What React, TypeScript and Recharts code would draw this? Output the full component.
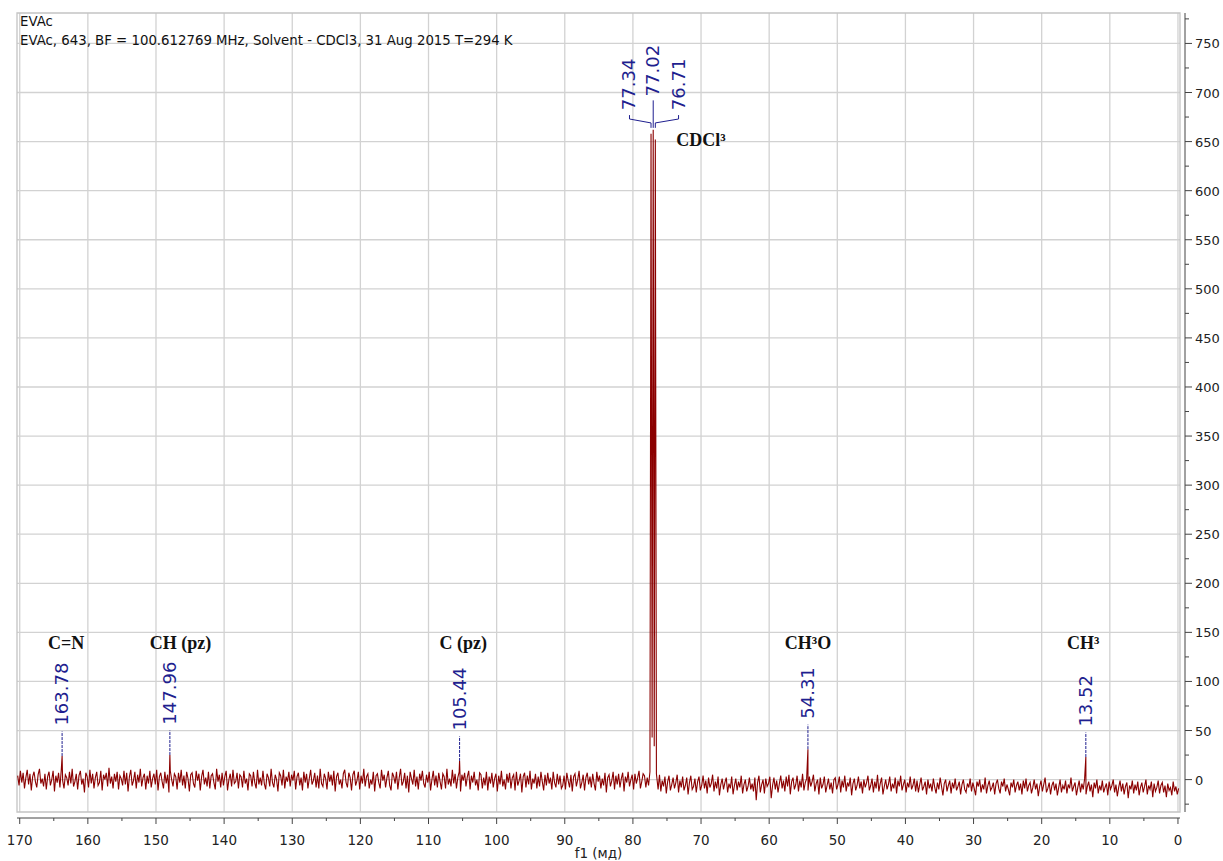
import React from 'react';
import {
  ComposedChart,
  Line,
  Scatter,
  XAxis,
  YAxis,
  CartesianGrid,
  ReferenceLine,
  ReferenceArea,
} from 'recharts';

// 13C spectrum, baseline sampled every 0.2 ppm from 170.3 ppm downwards
const NOISE_START = 170.3;
const NOISE_STEP = 0.2;
const baselineNoise = [
  4, -6, 9, -3, 7, -9, 2, 10, -5, 6, -11, 3, 8, -2, -8, 5, 11, -4, 1, -7,
  6, -10, 3, 8, -6, 0, 9, -12, 4, -3, 7, -8, 10, -1, -9, 5, 2, -6, 8, -4,
  11, -7, -2, 6, -10, 4, 9, -5, 1, -13, 7, 3, -8, 10, -4, 6, -9, 2, 8, -6,
  -3, 9, -11, 5, 0, 7, -7, 12, -4, 3, -9, 6, -2, 8, -10, 4, 1, -6, 9, -5,
  7, -12, 3, 10, -6, -1, 8, -9, 5, -3, 11, -7, 2, 6, -10, 4, -4, 9, -8, 1,
  6, -5, 10, -11, 3, 7, -2, -9, 8, -4, 5, -13, 9, 0, -7, 6, 3, -10, 7, -3,
  10, -6, 4, -9, 8, 1, -12, 5, 7, -4, -8, 9, -1, 6, -11, 3, 10, -5, 2, -7,
  8, -9, 4, 6, -3, -10, 11, -2, 5, -8, 7, -6, 3, 9, -11, 0, 6, -7, 10, -4,
  -2, 7, -9, 5, 3, -8, 9, -4, 1, -11, 6, 4, -7, 8, -3, -9, 10, -5, 2, -6,
  9, -4, -10, 6, 2, -7, 11, -3, -8, 5, 0, -12, 7, 4, -6, 10, -9, 3, -2, 8,
  -7, 5, -1, 9, -10, 3, 7, -6, 2, -11, 8, -3, 6, -9, 1, 10, -5, -1, 7, -8,
  4, -9, 11, -4, -7, 6, 1, -10, 8, -2, 5, -6, 9, -12, 3, 7, -5, 0, -9, 6,
  10, -3, -8, 7, 2, -11, 5, 9, -6, -1, 8, -10, 4, -4, 11, -7, 3, 6, -9, 0,
  -5, 8, -12, 4, 6, -3, -9, 10, -1, 5, -8, 2, 9, -6, -11, 7, 3, -4, 8, -10,
  2, 11, -6, -2, 7, -9, 4, -13, 8, 1, -5, 10, -7, 3, -10, 6, -1, 9, -4, -8,
  5, -3, 8, -11, 0, 9, -6, 4, -8, 7, -2, -10, 6, 3, -9, 11, -5, 1, -7, 10,
  -4, 6, -9, 2, 8, -12, 5, -1, 7, -7, 3, 9, -10, 4, -3, 8, -6, 0, -11, 7,
  5, -9, 2, -6, 8, -11, 3, -4, 7, -8, 1, 6, -12, 4, -5, 9, -7, 0, -10, 6,
  -3, 7, -9, 2, 5, -11, 8, -6, -1, 6, -13, 3, 7, -8, 4, -5, 9, -10, 1, -4,
  6, -9, 3, -7, 8, -2, -11, 5, -6, 7, -4, 2, -10, 8, -3, -8, 6, -5, 4, -9,
  -6, 4, -10, 7, -1, -8, 5, -12, 3, 6, -7, 0, 9, -9, -3, 5, -11, 2, 7, -5,
  3, -8, 6, -4, -11, 8, -2, 4, -9, 1, -6, 7, -13, 2, 5, -7, -1, 8, -10, 4,
  -5, 6, -8, 1, 7, -12, 3, -3, 8, -7, 0, 5, -10, 6, -4, 2, 9, -9, -2, 6,
  4, -8, 2, -6, 9, -3, -4, -1, -2, 3, -10, 5, -12, -1, -7, 3, -14, -2, 4, -11,
  -5, 2, -9, -3, 5, -13, -1, -8, 3, -11, -6, 2, -15, -3, 4, -10, -7, 1, -13, -2,
  3, -11, -6, 4, -9, -1, -14, 2, -8, -4, 5, -12, -2, -9, 3, -16, -5, 1, -10, -3,
  2, -13, -4, -9, 3, -15, -6, 1, -11, -2, -8, 4, -14, -5, 0, -12, -7, 2, -10, -4,
  -12, 2, -21, -3, 4, -13, -5, 0, -14, 1, -7, -4, 3, -19, -6, 2, -10, -1, -13, -4,
  4, -9, -1, -12, 3, -7, 5, -15, -2, 2, -10, -5, 4, -12, -1, -8, 6, -11, -3, 1,
  -11, 3, -7, -2, 5, -12, -4, 0, -15, 2, -9, -5, 3, -13, -6, 1, -10, -3, -14, 0,
  2, -10, -5, 3, -13, -1, -8, 4, -12, -3, -7, 2, -16, -4, 1, -11, -6, 3, -9, -2,
  -14, 0, -8, -3, 4, -11, -6, 1, -13, -2, -9, 5, -12, -4, 2, -15, -7, 0, -10, -5,
  3, -12, -4, -9, 2, -14, -1, -7, 4, -11, -5, 0, -13, -3, -8, 3, -10, -6, 1, -12,
  -1, -13, -5, 2, -11, -7, -2, -15, 0, -9, -4, -12, 1, -8, -14, -3, -10, 2, -7, -16,
  -4, 0, -12, -6, -1, -14, -3, -9, 1, -11, -7, -2, -15, -5, 0, -10, -13, -4, -8, 1,
  -12, -3, -9, -16, -2, -7, 0, -13, -5, -10, 2, -14, -6, -1, -11, -8, -3, -15, -4, 0,
  -9, -14, -2, -7, 1, -12, -5, -10, -16, -3, -8, 0, -13, -6, -2, -11, -4, -15, -1, -9,
  1, -12, -6, -3, -14, -8, 0, -10, -4, -17, -7, -1, -12, -5, 2, -13, -9, -3, -15, -6,
  -2, -11, -4, -16, -8, 0, -13, -6, -10, -1, -14, -5, -9, 2, -12, -7, -3, -16, -8, -1,
  -13, -4, -10, 1, -15, -7, -2, -12, -5, -18, -3, -9, 0, -14, -6, -11, -1, -13, -8, -4,
  -16, -2, -10, -6, 0, -13, -5, -17, -8, -1, -12, -4, -15, -7, -3, -19, -6, -10, -1, -14,
  -5, -11, -2, -16, -8, -3, -13, -7, 0, -15, -6, -10, -2, -18, -4, -12, -8, -1, -14, -6,
  -3, -13, -6, -18, -4, -11, -8, -16, -2, -12, -7, -15, -9,
];

// single lines
const peakPpm = [163.78, 147.96, 105.44, 54.31, 13.52];
const peakHeight = [24, 25, 19, 31, 23];

// CDCl3 triplet with its valleys
const cdclPpm = [77.5, 77.34, 77.18, 77.02, 76.87, 76.71, 76.55];
const cdclIntensity = [8, 658, 43, 662, 34, 652, 6];
const tripletPeaks = [77.34, 77.02, 76.71];
const tripletLabelPpm = [80.5, 77.02, 73.3];
const tripletLabelLevel = [682, 696, 682];

// assignments
const groupNames = ['C=N', 'CH (pz)', 'C (pz)', 'CH³O', 'CH³', 'CDCl³'];
const groupPpm = [163.2, 146.4, 104.9, 54.3, 13.9, 70.0];
const groupLevel = [133, 133, 133, 133, 133, 645];

const xTicks = Array.from({ length: 35 }, (_, i) => 170 - i * 5);
const yTicks = Array.from({ length: 33 }, (_, i) => -25 + i * 25);
const xGrid = xTicks.filter((v) => v % 10 === 0);
const yGrid = yTicks.filter((v) => v >= 0 && v % 50 === 0);

const X_DOMAIN: [number, number] = [-0.3, 170.4];
const Y_DOMAIN: [number, number] = [-33, 781];

const RED = '#8b0000';
const BLUE = '#1f1f8f';
const AXIS = '#444';
const SANS = '"DejaVu Sans", Verdana, sans-serif';

const spectrum = [
  ...baselineNoise
    .map((y, i) => ({ x: +(NOISE_START - i * NOISE_STEP).toFixed(2), y }))
    .filter((p) => p.x > 77.55 || p.x < 76.5),
  ...peakPpm.map((x, i) => ({ x, y: peakHeight[i] })),
  ...cdclPpm.map((x, i) => ({ x, y: cdclIntensity[i] })),
].sort((a, b) => b.x - a.x);

const peakLabels = peakPpm.map((x, i) => ({ x, y: peakHeight[i] + 31, text: x.toFixed(2) }));
const tripletLabels = tripletPeaks.map((p, i) => ({
  x: tripletLabelPpm[i],
  y: tripletLabelLevel[i],
  text: p.toFixed(2),
}));
const groupLabels = groupNames.map((name, i) => ({ x: groupPpm[i], y: groupLevel[i], text: name }));

const PpmTick = (props: any) => {
  const { x, y, payload } = props;
  const major = payload.value % 10 === 0;
  return (
    <g>
      <line x1={x} x2={x} y1={y + 6} y2={y + (major ? 12 : 9)} stroke={AXIS} />
      {major && (
        <text x={x} y={y + 33} textAnchor="middle" fontFamily={SANS} fontSize={13.5} fill="#222">
          {payload.value}
        </text>
      )}
    </g>
  );
};

const IntensityTick = (props: any) => {
  const { x, y, payload } = props;
  const major = payload.value % 50 === 0;
  return (
    <g>
      <line x1={x + 5} x2={x + (major ? 12 : 9)} y1={y} y2={y} stroke={AXIS} />
      {major && (
        <text x={x + 15} y={y + 5} textAnchor="start" fontFamily={SANS} fontSize={13} fill="#222">
          {payload.value}
        </text>
      )}
    </g>
  );
};

const ShiftLabel = (props: any) => {
  const { cx, cy, payload } = props;
  return (
    <text
      transform={`translate(${cx + 6},${cy}) rotate(-90)`}
      textAnchor="start"
      fontFamily={SANS}
      fontSize={18}
      fill={BLUE}
    >
      {payload.text}
    </text>
  );
};

const GroupLabel = (props: any) => {
  const { cx, cy, payload } = props;
  return (
    <text
      x={cx}
      y={cy}
      textAnchor="middle"
      fontFamily='"Liberation Serif", "Times New Roman", serif'
      fontWeight="bold"
      fontSize={18}
      fill="#111"
    >
      {payload.text}
    </text>
  );
};

const leader = { stroke: BLUE, strokeWidth: 1 };

export default function App() {
  return (
    <div style={{ position: 'absolute', left: 0, top: 0, width: 1223, height: 861, background: '#fff' }}>
      <div
        style={{
          position: 'absolute',
          left: 20,
          top: 12,
          fontFamily: SANS,
          fontSize: 13.3,
          lineHeight: '19px',
          color: '#111',
          zIndex: 1,
        }}
      >
        <div>EVAc</div>
        <div>EVAc, 643, BF = 100.612769 MHz, Solvent - CDCl3, 31 Aug 2015 T=294 K</div>
      </div>
      <ComposedChart width={1223} height={861} data={spectrum} margin={{ top: 13, right: 0, bottom: 0, left: 17 }}>
        <CartesianGrid stroke="#d2d2d2" strokeWidth={1.3} verticalValues={xGrid} horizontalValues={yGrid} />
        <ReferenceArea
          x1={X_DOMAIN[1]}
          x2={X_DOMAIN[0]}
          y1={Y_DOMAIN[0]}
          y2={Y_DOMAIN[1]}
          fill="none"
          stroke="#c4c4c4"
          strokeWidth={1.3}
          ifOverflow="visible"
        />
        <XAxis
          dataKey="x"
          type="number"
          domain={X_DOMAIN}
          reversed
          allowDataOverflow
          ticks={xTicks}
          interval={0}
          height={49}
          tickSize={0}
          tickMargin={0}
          tickLine={false}
          axisLine={{ stroke: AXIS, transform: 'translate(0,6)' }}
          tick={<PpmTick />}
          label={{ value: 'f1 (мд)', position: 'insideBottom', offset: 3, fontFamily: SANS, fontSize: 13.5, fill: '#222' }}
        />
        <YAxis
          dataKey="y"
          type="number"
          orientation="right"
          domain={Y_DOMAIN}
          allowDataOverflow
          ticks={yTicks}
          interval={0}
          width={43}
          tickSize={0}
          tickMargin={0}
          tickLine={false}
          axisLine={{ stroke: AXIS, transform: 'translate(5,0)' }}
          tick={<IntensityTick />}
        />
        <Line
          dataKey="y"
          type="linear"
          stroke={RED}
          strokeWidth={1.1}
          dot={false}
          activeDot={false}
          isAnimationActive={false}
        />
        {peakPpm.map((p, i) => (
          <ReferenceLine
            key={`lead-${p}`}
            segment={[
              { x: p, y: peakHeight[i] },
              { x: p, y: peakHeight[i] + 25 },
            ]}
            {...leader}
            strokeDasharray="3 1"
          />
        ))}
        {tripletPeaks.map((p, i) =>
          i === 1 ? (
            <ReferenceLine
              key={`tri-${p}`}
              segment={[
                { x: p, y: 664 },
                { x: p, y: tripletLabelLevel[i] - 4 },
              ]}
              {...leader}
            />
          ) : (
            [
              <ReferenceLine
                key={`tri-a-${p}`}
                segment={[
                  { x: tripletLabelPpm[i], y: tripletLabelLevel[i] - 5 },
                  { x: tripletLabelPpm[i], y: tripletLabelLevel[i] - 9 },
                ]}
                {...leader}
              />,
              <ReferenceLine
                key={`tri-b-${p}`}
                segment={[
                  { x: tripletLabelPpm[i], y: tripletLabelLevel[i] - 9 },
                  { x: p, y: 669 },
                ]}
                {...leader}
              />,
              <ReferenceLine
                key={`tri-c-${p}`}
                segment={[
                  { x: p, y: 669 },
                  { x: p, y: 664 },
                ]}
                {...leader}
              />,
            ]
          )
        )}
        <Scatter data={peakLabels} dataKey="y" shape={<ShiftLabel />} isAnimationActive={false} />
        <Scatter data={tripletLabels} dataKey="y" shape={<ShiftLabel />} isAnimationActive={false} />
        <Scatter data={groupLabels} dataKey="y" shape={<GroupLabel />} isAnimationActive={false} />
      </ComposedChart>
    </div>
  );
}
